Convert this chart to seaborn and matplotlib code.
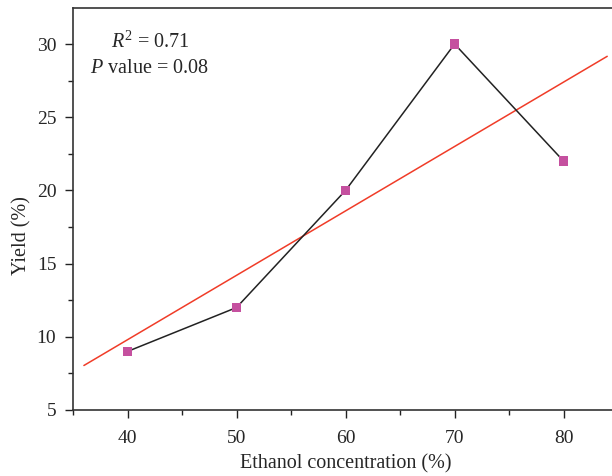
import matplotlib
matplotlib.use("Agg")
import matplotlib.pyplot as plt
import seaborn as sns
import numpy as np
import pandas as pd
from matplotlib.ticker import MultipleLocator

ethanol = [40, 50, 60, 70, 80]
yield_pct = [9, 12, 20, 30, 22]
fit_range = [36, 84]
r2_text = "0.71"
p_text = "0.08"

sns.set_style("ticks")
plt.rcParams['font.family'] = ['Liberation Serif', 'DejaVu Serif']
plt.rcParams['mathtext.fontset'] = 'custom'
plt.rcParams['mathtext.rm'] = 'Liberation Serif'
plt.rcParams['mathtext.it'] = 'Liberation Serif:italic'

fig = plt.figure(figsize=(6.12, 4.76), dpi=100)
ax = fig.add_axes([73/612, 66/476, 1 - 73/612 + 0.01, (410-8)/476])

df = pd.DataFrame({"x": ethanol, "y": yield_pct})
slope, intercept = np.polyfit(ethanol, yield_pct, 1)
fx = np.array(fit_range, dtype=float)
fit_df = pd.DataFrame({"x": fx, "y": slope * fx + intercept})

sns.lineplot(data=fit_df, x="x", y="y", ax=ax, color="#F03C28", lw=1.1)
sns.lineplot(data=df, x="x", y="y", ax=ax, color="#222222", lw=1.1)
sns.scatterplot(data=df, x="x", y="y", ax=ax, marker="s", s=45, color="#C5509F",
                edgecolor="none", zorder=5)

ax.set_xlim(35.0, 85.0)
ax.set_ylim(5, 32.46)
ax.xaxis.set_major_locator(MultipleLocator(10))
ax.xaxis.set_minor_locator(MultipleLocator(5))
ax.yaxis.set_major_locator(MultipleLocator(5))
ax.yaxis.set_minor_locator(MultipleLocator(2.5))
ax.tick_params(which="major", direction="out", length=6, width=1, labelsize=14, color="#222222")
ax.tick_params(axis="x", which="major", pad=8.5)
ax.tick_params(axis="y", which="major", pad=6)
ax.tick_params(which="minor", direction="out", length=3.5, width=1, color="#222222")
for s in ["left", "bottom", "top"]:
    ax.spines[s].set_color("#333333")
    ax.spines[s].set_linewidth(1.2)
ax.spines["right"].set_visible(False)

ax.set_xlabel("Ethanol concentration (%)", fontsize=14.5, labelpad=5)
ax.set_ylabel("Yield (%)", fontsize=14.5)
ax.yaxis.set_label_coords(-0.076, 0.435)

ax.text(0.07, 0.915, r"$R^2$ = " + r2_text, transform=ax.transAxes, fontsize=14.5,
        ha="left", va="center")
ax.text(0.031, 0.85, r"$P$ value = " + p_text, transform=ax.transAxes, fontsize=14.5,
        ha="left", va="center")

fig.savefig("out.png", dpi=100)
